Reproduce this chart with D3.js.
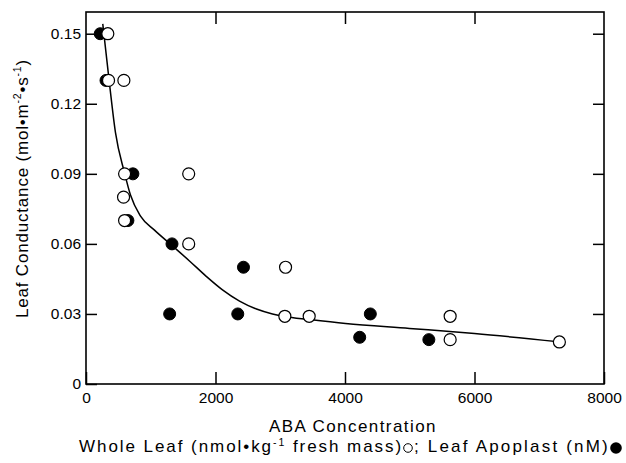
<!DOCTYPE html>
<html>
<head>
<meta charset="utf-8">
<script src="https://cdnjs.cloudflare.com/ajax/libs/d3/7.8.5/d3.min.js"></script>
<style>
  html, body { margin: 0; background: #fff; }
  svg { display: block; font-family: "Liberation Sans", Arial, Helvetica, sans-serif; }
  .tick text { font-size: 15.5px; fill: #000; }
  .tick line { stroke: #000; stroke-width: 1.5; }
</style>
</head>
<body>
<svg id="chart" width="626" height="463"></svg>
<script>
// values
var xTicks = [0, 2000, 4000, 6000, 8000];
var yTicks = [0, 0.03, 0.06, 0.09, 0.12, 0.15];

// whole leaf ABA (open circles)
var wholeLeafABA = [337, 348, 585, 596, 1586, 580, 596, 1586, 3082, 3071, 3447, 5624, 5624, 7311];
var wholeLeafG   = [0.15, 0.13, 0.13, 0.09, 0.09, 0.08, 0.07, 0.06, 0.05, 0.029, 0.029, 0.029, 0.019, 0.018];

// leaf apoplast ABA (filled circles)
var apoplastABA = [220, 309, 724, 647, 1328, 1292, 2344, 2432, 4391, 4227, 5295];
var apoplastG   = [0.15, 0.13, 0.09, 0.07, 0.06, 0.03, 0.03, 0.05, 0.03, 0.02, 0.019];

// fitted curve, traced
var curveABA = [259, 363, 456, 595, 687, 842, 1058, 1320, 1598, 1861, 2108, 2371, 2633, 2880, 3066, 3452, 4008, 4996, 6000, 7297];
var curveG   = [0.1542, 0.1285, 0.1075, 0.0904, 0.0809, 0.0719, 0.0659, 0.0595, 0.0527, 0.0460, 0.0403, 0.0355, 0.0321, 0.0300, 0.0289, 0.0276, 0.0259, 0.0238, 0.0216, 0.0181];

var margin = {top: 12, left: 86, right: 22, bottom: 79};
var W = 626, H = 463;
var w = W - margin.left - margin.right;
var h = H - margin.top - margin.bottom;

var svg = d3.select("#chart");
var g = svg.append("g").attr("transform", "translate(" + margin.left + "," + margin.top + ")");

var x = d3.scaleLinear().domain([0, 8000]).range([0, w]);
var y = d3.scaleLinear().domain([0, 0.1593]).range([h, 0]);

function fmtY(d) { return d === 0 ? "0" : d.toFixed(2); }

// axes, ticks pointing inward
g.append("g").attr("transform", "translate(0," + h + ")")
  .call(d3.axisBottom(x).tickValues(xTicks).tickSizeInner(-12).tickSizeOuter(0).tickPadding(8).tickFormat(d3.format("d")))
  .call(function (a) { a.select(".domain").remove(); });
g.append("g")
  .call(d3.axisTop(x).tickValues(xTicks.slice(1, 4)).tickSizeInner(-12).tickSizeOuter(0).tickFormat(""))
  .call(function (a) { a.select(".domain").remove(); });
g.append("g")
  .call(d3.axisLeft(y).tickValues(yTicks).tickSizeInner(-11).tickSizeOuter(0).tickPadding(5).tickFormat(fmtY))
  .call(function (a) { a.select(".domain").remove(); });
g.append("g").attr("transform", "translate(" + w + ",0)")
  .call(d3.axisRight(y).tickValues(yTicks.slice(1)).tickSizeInner(-11).tickSizeOuter(0).tickFormat(""))
  .call(function (a) { a.select(".domain").remove(); });

g.append("rect").attr("width", w).attr("height", h)
  .attr("fill", "none").attr("stroke", "#000").attr("stroke-width", 1.6);

// fitted curve
var line = d3.line()
  .x(function (d) { return x(d[0]); })
  .y(function (d) { return y(d[1]); })
  .curve(d3.curveMonotoneX);
g.append("path")
  .datum(d3.zip(curveABA, curveG))
  .attr("d", line)
  .attr("fill", "none").attr("stroke", "#000").attr("stroke-width", 1.5);

// filled first, open circles sit on top
g.selectAll("circle.apo")
  .data(d3.zip(apoplastABA, apoplastG))
  .enter().append("circle").attr("class", "apo")
  .attr("cx", function (d) { return x(d[0]); })
  .attr("cy", function (d) { return y(d[1]); })
  .attr("r", 6).attr("fill", "#000").attr("stroke", "#000").attr("stroke-width", 1);
g.selectAll("circle.whole")
  .data(d3.zip(wholeLeafABA, wholeLeafG))
  .enter().append("circle").attr("class", "whole")
  .attr("cx", function (d) { return x(d[0]); })
  .attr("cy", function (d) { return y(d[1]); })
  .attr("r", 6).attr("fill", "#fff").attr("stroke", "#000").attr("stroke-width", 1.2);

// stretch letter spacing so a label covers the width it has in the figure
function fitWidth(t, target) {
  var n = t.node().getNumberOfChars();
  var cur = t.node().getComputedTextLength();
  t.attr("letter-spacing", ((target - cur) / n).toFixed(2) + "px");
}

// titles
var xt = svg.append("text").attr("x", 269).attr("y", 432)
  .attr("font-size", 17).text("ABA Concentration");
fitWidth(xt, 168);

var sub1 = svg.append("text").attr("x", 79).attr("y", 452).attr("font-size", 17);
sub1.append("tspan").text("Whole Leaf (nmol\u2022kg");
sub1.append("tspan").attr("font-size", 10.5).attr("dy", -6.5).text("-1");
sub1.append("tspan").attr("dy", 6.5).text(" fresh mass)");
fitWidth(sub1, 324);
svg.append("circle").attr("cx", 408).attr("cy", 448).attr("r", 4.3)
  .attr("fill", "#fff").attr("stroke", "#000").attr("stroke-width", 1);

var sub2 = svg.append("text").attr("x", 414).attr("y", 452).attr("font-size", 17)
  .text(";  Leaf Apoplast (nM)");
fitWidth(sub2, 196);
svg.append("circle").attr("cx", 616).attr("cy", 448).attr("r", 5.8).attr("fill", "#000");

var yt = svg.append("text").attr("transform", "translate(27.5,318) rotate(-90)")
  .attr("font-size", 17);
yt.append("tspan").text("Leaf Conductance (mol\u2022m");
yt.append("tspan").attr("font-size", 10.5).attr("dy", -6.5).text("-2");
yt.append("tspan").attr("dy", 6.5).text("\u2022s");
yt.append("tspan").attr("font-size", 10.5).attr("dy", -6.5).text("-1");
yt.append("tspan").attr("dy", 6.5).text(")");
fitWidth(yt, 259);
</script>
</body>
</html>
